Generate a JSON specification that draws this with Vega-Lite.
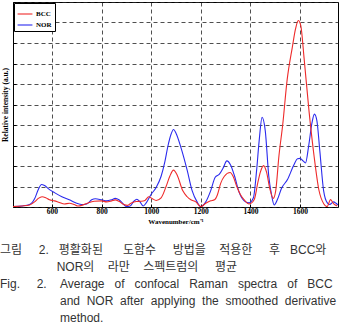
{
  "$schema": "https://vega.github.io/schema/vega-lite/v6.json",
  "width": 325,
  "height": 205,
  "autosize": {"type": "none"},
  "padding": {"left": 13, "top": 2, "right": 2, "bottom": 122},
  "background": "white",
  "view": {"stroke": "black", "strokeWidth": 1},
  "title": {
    "text": [
      "그림\u00a0\u00a0\u00a0\u00a0\u00a02.\u00a0\u00a0\u00a0평활화된\u00a0\u00a0\u00a0\u00a0\u00a0\u00a0도함수\u00a0\u00a0\u00a0\u00a0\u00a0방법을\u00a0\u00a0\u00a0\u00a0적용한\u00a0\u00a0\u00a0\u00a0\u00a0후\u00a0\u00a0\u00a0BCC와",
      "\u200b\u00a0\u00a0\u00a0\u00a0\u00a0\u00a0\u00a0\u00a0\u00a0\u00a0\u00a0\u00a0\u00a0\u00a0\u00a0\u00a0\u00a0NOR의\u00a0\u00a0\u00a0\u00a0라만\u00a0\u00a0\u00a0\u00a0스펙트럼의\u00a0\u00a0\u00a0\u00a0\u00a0평균",
      "Fig.\u00a0\u00a0\u00a0\u00a0\u00a02.\u00a0\u00a0\u00a0\u00a0Average\u00a0\u00a0\u00a0of\u00a0\u00a0\u00a0confocal\u00a0\u00a0\u00a0Raman\u00a0\u00a0\u00a0spectra\u00a0\u00a0\u00a0of\u00a0\u00a0\u00a0BCC",
      "\u200b\u00a0\u00a0\u00a0\u00a0\u00a0\u00a0\u00a0\u00a0\u00a0\u00a0\u00a0\u00a0\u00a0\u00a0\u00a0\u00a0\u00a0\u00a0and\u00a0\u00a0NOR\u00a0\u00a0after\u00a0\u00a0applying\u00a0\u00a0the\u00a0\u00a0smoothed\u00a0\u00a0derivative",
      "\u200b\u00a0\u00a0\u00a0\u00a0\u00a0\u00a0\u00a0\u00a0\u00a0\u00a0\u00a0\u00a0\u00a0\u00a0\u00a0\u00a0\u00a0\u00a0method."
    ],
    "orient": "bottom",
    "anchor": "start",
    "frame": "group",
    "align": "left",
    "dx": -13,
    "offset": 20,
    "font": "Liberation Sans, Noto Sans CJK KR",
    "fontSize": 12,
    "fontWeight": "normal",
    "color": "#333333",
    "lineHeight": 17
  },
  "data": {
    "values": [
      {"s": "NOR", "x": 443, "y": 0.02},
      {"s": "NOR", "x": 480, "y": 0.05},
      {"s": "NOR", "x": 510, "y": 0.12},
      {"s": "NOR", "x": 530, "y": 0.4},
      {"s": "NOR", "x": 545, "y": 0.85},
      {"s": "NOR", "x": 558, "y": 1.1},
      {"s": "NOR", "x": 570, "y": 1.05},
      {"s": "NOR", "x": 590, "y": 0.85},
      {"s": "NOR", "x": 610, "y": 0.7},
      {"s": "NOR", "x": 640, "y": 0.5},
      {"s": "NOR", "x": 670, "y": 0.35},
      {"s": "NOR", "x": 700, "y": 0.18},
      {"s": "NOR", "x": 720, "y": 0.12},
      {"s": "NOR", "x": 740, "y": 0.15},
      {"s": "NOR", "x": 760, "y": 0.35},
      {"s": "NOR", "x": 775, "y": 0.4},
      {"s": "NOR", "x": 800, "y": 0.35},
      {"s": "NOR", "x": 820, "y": 0.3},
      {"s": "NOR", "x": 840, "y": 0.35},
      {"s": "NOR", "x": 855, "y": 0.42},
      {"s": "NOR", "x": 870, "y": 0.35},
      {"s": "NOR", "x": 885, "y": 0.18},
      {"s": "NOR", "x": 900, "y": 0.02},
      {"s": "NOR", "x": 915, "y": 0.05},
      {"s": "NOR", "x": 930, "y": 0.28},
      {"s": "NOR", "x": 942, "y": 0.38},
      {"s": "NOR", "x": 955, "y": 0.25},
      {"s": "NOR", "x": 968, "y": 0.05},
      {"s": "NOR", "x": 980, "y": 0.2},
      {"s": "NOR", "x": 1000, "y": 0.62},
      {"s": "NOR", "x": 1020, "y": 0.95},
      {"s": "NOR", "x": 1040, "y": 1.5},
      {"s": "NOR", "x": 1055, "y": 2.2},
      {"s": "NOR", "x": 1068, "y": 3.0},
      {"s": "NOR", "x": 1080, "y": 3.55},
      {"s": "NOR", "x": 1090, "y": 3.78},
      {"s": "NOR", "x": 1100, "y": 3.6},
      {"s": "NOR", "x": 1120, "y": 2.9},
      {"s": "NOR", "x": 1145, "y": 1.8},
      {"s": "NOR", "x": 1165, "y": 0.8},
      {"s": "NOR", "x": 1185, "y": 0.25},
      {"s": "NOR", "x": 1200, "y": 0.02},
      {"s": "NOR", "x": 1220, "y": 0.25},
      {"s": "NOR", "x": 1240, "y": 0.8},
      {"s": "NOR", "x": 1258, "y": 1.45},
      {"s": "NOR", "x": 1275, "y": 1.6},
      {"s": "NOR", "x": 1290, "y": 1.9},
      {"s": "NOR", "x": 1305, "y": 2.25},
      {"s": "NOR", "x": 1320, "y": 2.05},
      {"s": "NOR", "x": 1335, "y": 1.55},
      {"s": "NOR", "x": 1355, "y": 0.7},
      {"s": "NOR", "x": 1375, "y": 0.3},
      {"s": "NOR", "x": 1395, "y": 0.2},
      {"s": "NOR", "x": 1412, "y": 0.45},
      {"s": "NOR", "x": 1425, "y": 1.8},
      {"s": "NOR", "x": 1435, "y": 3.2},
      {"s": "NOR", "x": 1447, "y": 4.37},
      {"s": "NOR", "x": 1460, "y": 3.7},
      {"s": "NOR", "x": 1474, "y": 1.5},
      {"s": "NOR", "x": 1485, "y": 0.6},
      {"s": "NOR", "x": 1496, "y": 0.1},
      {"s": "NOR", "x": 1510, "y": 0.4},
      {"s": "NOR", "x": 1525, "y": 0.9},
      {"s": "NOR", "x": 1550, "y": 1.35},
      {"s": "NOR", "x": 1575, "y": 2.05},
      {"s": "NOR", "x": 1590, "y": 2.35},
      {"s": "NOR", "x": 1600, "y": 2.37},
      {"s": "NOR", "x": 1612, "y": 2.25},
      {"s": "NOR", "x": 1622, "y": 2.15},
      {"s": "NOR", "x": 1635, "y": 3.0},
      {"s": "NOR", "x": 1648, "y": 4.1},
      {"s": "NOR", "x": 1658, "y": 4.53},
      {"s": "NOR", "x": 1668, "y": 4.2},
      {"s": "NOR", "x": 1680, "y": 2.7},
      {"s": "NOR", "x": 1695, "y": 0.8},
      {"s": "NOR", "x": 1710, "y": 0.2},
      {"s": "NOR", "x": 1720, "y": 0.12},
      {"s": "NOR", "x": 1735, "y": 0.25},
      {"s": "NOR", "x": 1745, "y": 0.18},
      {"s": "NOR", "x": 1753, "y": 0.1},
      {"s": "BCC", "x": 443, "y": 0.02},
      {"s": "BCC", "x": 480, "y": 0.05},
      {"s": "BCC", "x": 510, "y": 0.1},
      {"s": "BCC", "x": 530, "y": 0.25},
      {"s": "BCC", "x": 545, "y": 0.42},
      {"s": "BCC", "x": 560, "y": 0.5},
      {"s": "BCC", "x": 575, "y": 0.45},
      {"s": "BCC", "x": 590, "y": 0.35},
      {"s": "BCC", "x": 610, "y": 0.3},
      {"s": "BCC", "x": 630, "y": 0.22},
      {"s": "BCC", "x": 650, "y": 0.15},
      {"s": "BCC", "x": 670, "y": 0.18},
      {"s": "BCC", "x": 690, "y": 0.12},
      {"s": "BCC", "x": 705, "y": 0.05},
      {"s": "BCC", "x": 720, "y": 0.08},
      {"s": "BCC", "x": 745, "y": 0.2},
      {"s": "BCC", "x": 770, "y": 0.28},
      {"s": "BCC", "x": 800, "y": 0.3},
      {"s": "BCC", "x": 820, "y": 0.25},
      {"s": "BCC", "x": 840, "y": 0.3},
      {"s": "BCC", "x": 855, "y": 0.35},
      {"s": "BCC", "x": 870, "y": 0.28},
      {"s": "BCC", "x": 890, "y": 0.12},
      {"s": "BCC", "x": 905, "y": 0.08},
      {"s": "BCC", "x": 920, "y": 0.2},
      {"s": "BCC", "x": 940, "y": 0.27},
      {"s": "BCC", "x": 960, "y": 0.28},
      {"s": "BCC", "x": 975, "y": 0.32},
      {"s": "BCC", "x": 990, "y": 0.5},
      {"s": "BCC", "x": 1005, "y": 0.4},
      {"s": "BCC", "x": 1020, "y": 0.32},
      {"s": "BCC", "x": 1040, "y": 0.45},
      {"s": "BCC", "x": 1060, "y": 1.0},
      {"s": "BCC", "x": 1075, "y": 1.5},
      {"s": "BCC", "x": 1090, "y": 1.8},
      {"s": "BCC", "x": 1105, "y": 1.55},
      {"s": "BCC", "x": 1127, "y": 0.8},
      {"s": "BCC", "x": 1145, "y": 0.5},
      {"s": "BCC", "x": 1160, "y": 0.35},
      {"s": "BCC", "x": 1180, "y": 0.25},
      {"s": "BCC", "x": 1200, "y": 0.02},
      {"s": "BCC", "x": 1220, "y": 0.18},
      {"s": "BCC", "x": 1240, "y": 0.3},
      {"s": "BCC", "x": 1255, "y": 0.35},
      {"s": "BCC", "x": 1267, "y": 0.6},
      {"s": "BCC", "x": 1280, "y": 1.15},
      {"s": "BCC", "x": 1295, "y": 1.5},
      {"s": "BCC", "x": 1318, "y": 1.68},
      {"s": "BCC", "x": 1330, "y": 1.5},
      {"s": "BCC", "x": 1345, "y": 1.0},
      {"s": "BCC", "x": 1360, "y": 0.6},
      {"s": "BCC", "x": 1375, "y": 0.35},
      {"s": "BCC", "x": 1395, "y": 0.15},
      {"s": "BCC", "x": 1415, "y": 0.35},
      {"s": "BCC", "x": 1430, "y": 1.2},
      {"s": "BCC", "x": 1440, "y": 1.7},
      {"s": "BCC", "x": 1453, "y": 2.02},
      {"s": "BCC", "x": 1465, "y": 1.7},
      {"s": "BCC", "x": 1478, "y": 0.9},
      {"s": "BCC", "x": 1492, "y": 0.42},
      {"s": "BCC", "x": 1502, "y": 0.8},
      {"s": "BCC", "x": 1515, "y": 2.5},
      {"s": "BCC", "x": 1530, "y": 4.0},
      {"s": "BCC", "x": 1548, "y": 6.2},
      {"s": "BCC", "x": 1569, "y": 7.8},
      {"s": "BCC", "x": 1582, "y": 8.7},
      {"s": "BCC", "x": 1593, "y": 9.1},
      {"s": "BCC", "x": 1603, "y": 8.85},
      {"s": "BCC", "x": 1616, "y": 7.3},
      {"s": "BCC", "x": 1636, "y": 4.7},
      {"s": "BCC", "x": 1657, "y": 2.44},
      {"s": "BCC", "x": 1676, "y": 0.83},
      {"s": "BCC", "x": 1696, "y": 0.15},
      {"s": "BCC", "x": 1709, "y": 0.02},
      {"s": "BCC", "x": 1723, "y": 0.36},
      {"s": "BCC", "x": 1736, "y": 0.15},
      {"s": "BCC", "x": 1750, "y": 0.05}
    ]
  },
  "mark": {"type": "line", "interpolate": "monotone", "strokeWidth": 1.1, "clip": true},
  "encoding": {
    "x": {
      "field": "x",
      "type": "quantitative",
      "scale": {"domain": [443, 1753], "nice": false, "zero": false},
      "axis": {
        "values": [600, 800, 1000, 1200, 1400, 1600],
        "format": "d",
        "title": "Wavenumber/cm⁻¹",
        "titleFont": "Liberation Serif",
        "titleFontSize": 7,
        "titleFontWeight": "bold",
        "titleColor": "black",
        "titlePadding": 3,
        "labelFont": "Liberation Serif",
        "labelFontSize": 7.5,
        "labelFontWeight": "bold",
        "labelColor": "black",
        "labelPadding": 3,
        "domain": false,
        "ticks": true,
        "tickSize": -3,
        "tickColor": "black",
        "grid": true,
        "gridColor": "#222222",
        "gridDash": [4, 3],
        "gridWidth": 0.8
      }
    },
    "y": {
      "field": "y",
      "type": "quantitative",
      "scale": {"domain": [0, 10], "nice": false},
      "axis": {
        "values": [0, 1, 2, 3, 4, 5, 6, 7, 8, 9, 10],
        "title": "Relative intensity (a.u.)",
        "titleFont": "Liberation Serif",
        "titleFontSize": 7.5,
        "titleFontWeight": "bold",
        "titleColor": "black",
        "titlePadding": 3,
        "labels": false,
        "domain": false,
        "ticks": true,
        "tickSize": -3,
        "tickColor": "black",
        "grid": true,
        "gridColor": "#222222",
        "gridDash": [4, 3],
        "gridWidth": 0.8
      }
    },
    "color": {
      "field": "s",
      "type": "nominal",
      "scale": {"domain": ["BCC", "NOR"], "range": ["#ee2a2a", "#2a2aee"]},
      "legend": {
        "title": null,
        "orient": "top-left",
        "offset": 1,
        "padding": 3,
        "strokeColor": "black",
        "fillColor": "white",
        "symbolType": "stroke",
        "symbolSize": 220,
        "symbolStrokeWidth": 1.1,
        "labelFont": "Liberation Serif",
        "labelFontSize": 7,
        "labelFontWeight": "bold",
        "labelColor": "black",
        "labelOffset": 3,
        "rowPadding": 0
      }
    }
  }
}
